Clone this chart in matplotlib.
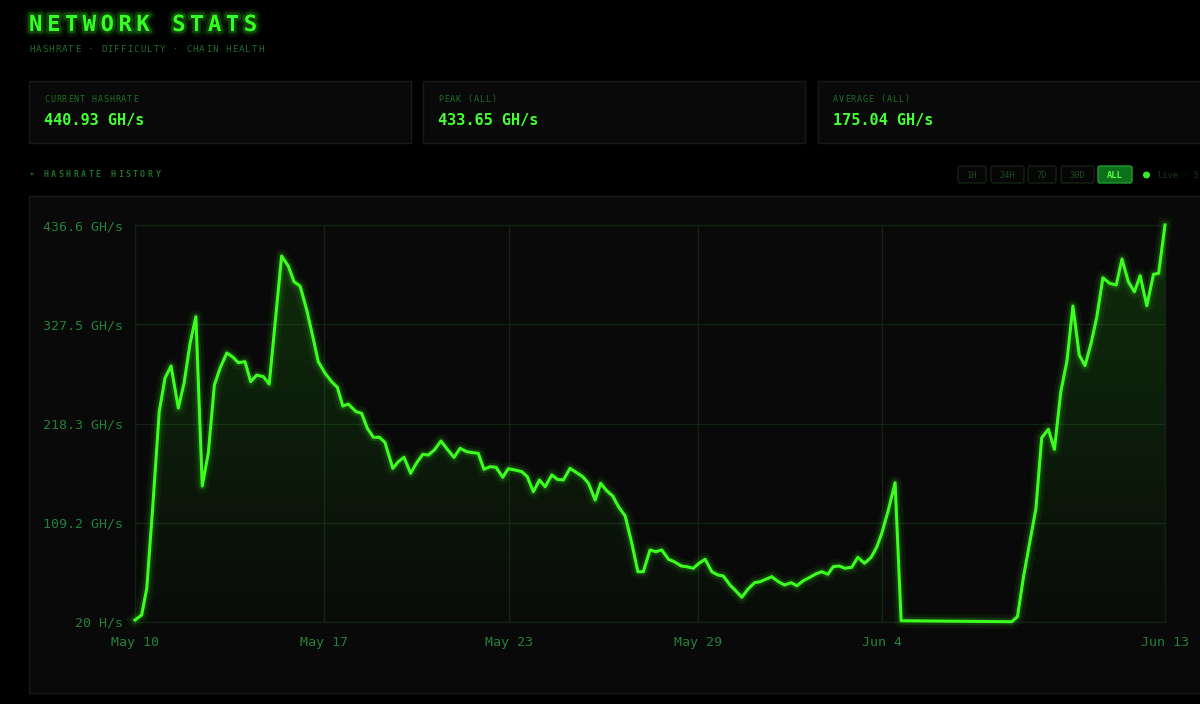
import numpy as np
import matplotlib
matplotlib.use("Agg")
import matplotlib.pyplot as plt
import matplotlib.patheffects as pe
from matplotlib.patches import Rectangle, FancyBboxPatch, Circle

# hashrate history, days since first sample / GH/s
days = [0.00, 0.22, 0.39, 0.59, 0.80, 0.99, 1.19, 1.43, 1.62, 1.82, 2.01, 2.22, 2.42, 2.62,
        2.81, 3.03, 3.23, 3.41, 3.63, 3.82, 4.02, 4.24, 4.43, 4.84, 5.06, 5.25, 5.45, 5.67,
        5.87, 6.05, 6.27, 6.49, 6.68, 6.86, 7.04, 7.30, 7.48, 7.67, 7.87, 8.07, 8.25, 8.51,
        8.69, 8.88, 9.10, 9.30, 9.50, 9.68, 9.88, 10.10, 10.31, 10.53, 10.73, 10.95, 11.15,
        11.33, 11.52, 11.72, 11.92, 12.14, 12.32, 12.54, 12.77, 12.95, 13.15, 13.35, 13.54,
        13.76, 13.94, 14.14, 14.36, 14.58, 14.78, 14.97, 15.19, 15.37, 15.57, 15.77, 15.96,
        16.18, 16.40, 16.60, 16.78, 17.00, 17.19, 17.39, 17.61, 17.80, 18.03, 18.21, 18.43,
        18.62, 18.82, 19.04, 19.24, 19.42, 19.64, 19.83, 20.03, 20.23, 20.45, 20.63, 20.82,
        21.02, 21.24, 21.44, 21.66, 21.85, 22.06, 22.28, 22.47, 22.67, 22.87, 23.05, 23.24,
        23.44, 23.66, 23.86, 24.08, 24.30, 24.49, 24.65, 24.87, 25.09, 25.29, 28.94, 29.13,
        29.33, 29.52, 29.74, 29.93, 30.15, 30.35, 30.56, 30.76, 30.96, 31.17, 31.36, 31.56,
        31.75, 31.95, 32.17, 32.39, 32.58, 32.79, 32.99, 33.18, 33.40, 33.62, 33.79, 34.00]
hashrate = [2.2, 7.7, 37.4, 128.7, 231.3, 268.3, 281.5, 235.3, 262.8, 306.8, 335.7, 149.6,
            185.9, 260.6, 279.3, 295.8, 291.4, 285.2, 286.3, 264.3, 271.6, 269.8, 261.7, 402.5,
            391.5, 374.2, 369.5, 343.1, 313.7, 286.3, 273.8, 264.3, 258.1, 237.5, 239.7, 231.3,
            229.5, 213.0, 203.1, 203.1, 197.6, 169.0, 176.3, 181.1, 163.5, 175.2, 184.4, 183.6,
            189.1, 199.0, 189.9, 181.1, 191.0, 187.3, 186.2, 185.5, 167.9, 170.8, 170.1, 159.1,
            168.6, 167.2, 165.3, 159.8, 143.3, 156.2, 148.8, 161.7, 156.9, 156.2, 169.0, 164.2,
            159.8, 152.5, 134.2, 152.5, 144.4, 138.6, 126.8, 116.6, 86.5, 55.3, 55.3, 79.2,
            77.3, 79.2, 69.0, 66.3, 61.6, 60.8, 59.1, 64.6, 69.0, 55.3, 51.7, 50.6, 40.7, 34.4,
            27.2, 36.0, 43.2, 44.3, 47.0, 49.8, 44.3, 40.7, 43.2, 39.9, 45.4, 49.2, 52.8, 55.3,
            52.5, 60.8, 61.6, 59.1, 60.2, 71.1, 64.6, 71.1, 82.8, 97.5, 123.2, 153.2, 1.4, 0.3,
            5.8, 49.8, 84.7, 125.0, 202.7, 211.9, 189.9, 253.3, 286.3, 347.5, 293.6, 281.9,
            306.5, 335.7, 378.6, 372.5, 370.6, 399.2, 374.2, 363.2, 380.8, 347.8, 382.4, 383.5,
            436.6]

x_ticks = [0.0, 6.24, 12.35, 18.58, 24.65, 34.0]
x_labels = ["May 10", "May 17", "May 23", "May 29", "Jun 4", "Jun 13"]
y_ticks = [0.0, 109.15, 218.3, 327.45, 436.6]
y_labels = ["20 H/s", "109.2 GH/s", "218.3 GH/s", "327.5 GH/s", "436.6 GH/s"]

card_titles = ["CURRENT HASHRATE", "PEAK (ALL)", "AVERAGE (ALL)"]
card_values = ["440.93 GH/s", "433.65 GH/s", "175.04 GH/s"]
ranges = ["1H", "24H", "7D", "30D", "ALL"]
active_range = "ALL"

MONO = "DejaVu Sans Mono"
NEON = "#3dff1f"
DIM = "#1f6e2a"
LABEL = "#24803a"
PANEL = "#090909"
EDGE = "#171a17"

fig = plt.figure(figsize=(12, 7.04), dpi=100, facecolor="#000000")

# page layer in pixel coordinates
bg = fig.add_axes([0, 0, 1, 1])
bg.set_xlim(0, 1200)
bg.set_ylim(704, 0)
bg.axis("off")


def spaced(x, y, s, size, color, step, weight="normal", effects=None):
    for i, ch in enumerate(s):
        t = bg.text(x + i * step, y, ch, fontsize=size, color=color, family=MONO,
                    weight=weight, va="center", ha="left")
        if effects:
            t.set_path_effects(effects)


glow = [pe.Stroke(linewidth=8, foreground=NEON, alpha=0.08),
        pe.Stroke(linewidth=4, foreground=NEON, alpha=0.2), pe.Normal()]
spaced(29, 25, "NETWORK STATS", 16, "#33ff22", 17.9, weight="bold", effects=glow)
spaced(29, 50, "HASHRATE · DIFFICULTY · CHAIN HEALTH", 6.6, DIM, 6.55)

# stat cards
card_x = [29, 423, 818]
for cx, title, val in zip(card_x, card_titles, card_values):
    bg.add_patch(Rectangle((cx, 81), 382 if cx < 800 else 400, 62, facecolor=PANEL,
                           edgecolor=EDGE, lw=1))
    spaced(cx + 15, 99, title, 6.0, DIM, 5.94)
    bg.text(cx + 15, 120, val, fontsize=11, color="#44ff33", family=MONO,
            weight="bold", va="center", ha="left")

spaced(29, 174.5, "▸ HASHRATE HISTORY", 6.0, DIM, 7.4, weight="bold")

# time range buttons
bx = [958, 991, 1028, 1061, 1098]
bw = [28, 33, 28, 33, 34]
for x0, w, lab in zip(bx, bw, ranges):
    on = lab == active_range
    bg.add_patch(FancyBboxPatch((x0, 166), w, 17, boxstyle="round,pad=0,rounding_size=2",
                                facecolor="#0d6e1c" if on else "#050605",
                                edgecolor="#1f9a30" if on else "#152015", lw=1))
    bg.text(x0 + w / 2, 175, lab, fontsize=6.3, family=MONO,
            color="#55ff44" if on else "#1d4a22", weight="bold" if on else "normal",
            ha="center", va="center")
bg.add_patch(Circle((1146.5, 175), 2.8, color="#33ee22"))
bg.text(1157, 175, "live · 5s", fontsize=6.3, family=MONO, color="#163a1a",
        ha="left", va="center")

# chart panel
bg.add_patch(Rectangle((29, 196), 1190, 497, facecolor=PANEL, edgecolor=EDGE, lw=1))

ax = fig.add_axes([135 / 1200, 82 / 704, 1030 / 1200, 397 / 704])
ax.set_facecolor("none")
ax.set_xlim(days[0], days[-1])
ax.set_ylim(0, 436.6)

# gradient fill under the line
area = ax.fill_between(days, hashrate, 0, facecolor="none", edgecolor="none")
grad = np.zeros((256, 1, 4))
grad[:, 0, 0] = 0.2
grad[:, 0, 1] = 1.0
grad[:, 0, 2] = 0.1
grad[:, 0, 3] = np.linspace(0.015, 0.15, 256)
im = ax.imshow(grad, extent=[days[0], days[-1], 0, 436.6], origin="lower",
               aspect="auto", zorder=1)
im.set_clip_path(area.get_paths()[0], transform=ax.transData)

ax.plot(days, hashrate, color=NEON, lw=2.2, zorder=3, clip_on=False,
        solid_joinstyle="round",
        path_effects=[pe.Stroke(linewidth=10, foreground=NEON, alpha=0.06),
                      pe.Stroke(linewidth=5.5, foreground=NEON, alpha=0.14),
                      pe.Normal()])

ax.set_xticks(x_ticks)
ax.set_xticklabels(x_labels)
ax.set_yticks(y_ticks)
ax.set_yticklabels(y_labels)
ax.tick_params(length=0, colors=LABEL, labelsize=9.6, pad=10)
ax.tick_params(axis="y", pad=8.5)
for lab in ax.get_xticklabels() + ax.get_yticklabels():
    lab.set_family(MONO)
ax.grid(True, color="#142414", lw=0.9)
ax.set_axisbelow(True)
for s in ax.spines.values():
    s.set_color("#142414")
    s.set_linewidth(0.9)

fig.savefig("out.png", dpi=100, facecolor=fig.get_facecolor())
